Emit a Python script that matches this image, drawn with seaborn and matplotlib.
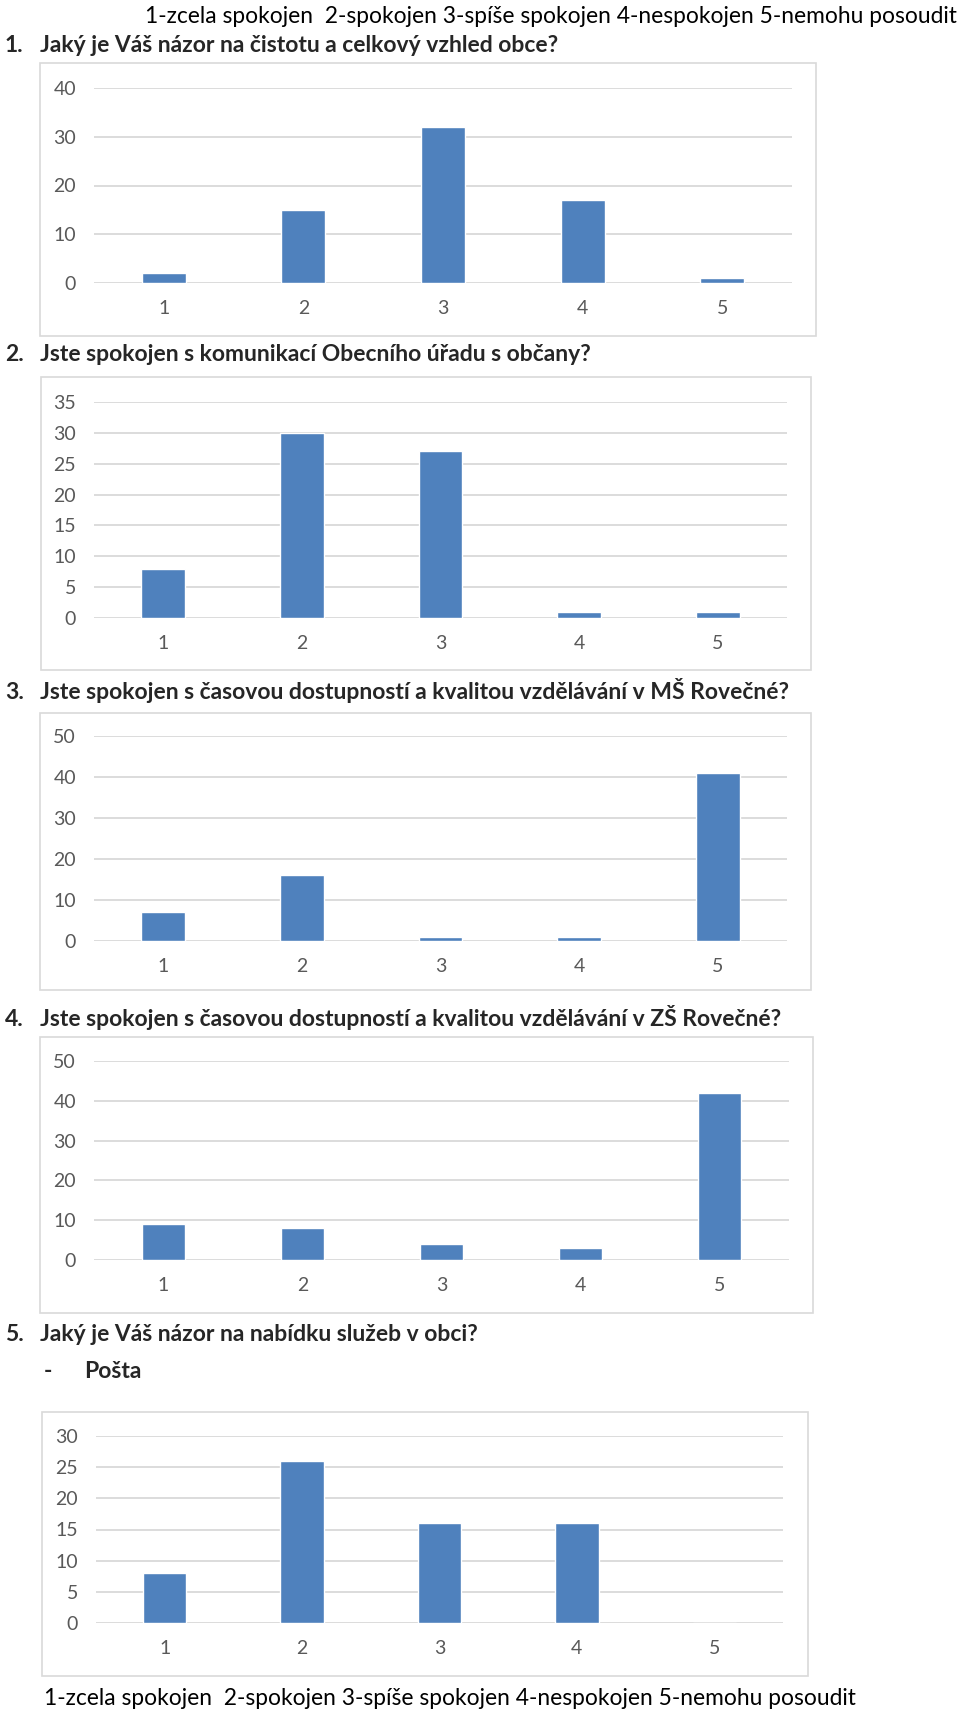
import matplotlib
matplotlib.use("Agg")
import matplotlib.pyplot as plt
from matplotlib.patches import Rectangle
import seaborn as sns
import pandas as pd

# ---- data ----
categories = ["1", "2", "3", "4", "5"]
q1_values = [2, 15, 32, 17, 1]
q2_values = [8, 30, 27, 1, 1]
q3_values = [7, 16, 1, 1, 41]
q4_values = [9, 8, 4, 3, 42]
q5_posta_values = [8, 26, 16, 16, 0]

q1_ticks = [0, 10, 20, 30, 40]
q2_ticks = [0, 5, 10, 15, 20, 25, 30, 35]
q3_ticks = [0, 10, 20, 30, 40, 50]
q4_ticks = [0, 10, 20, 30, 40, 50]
q5_ticks = [0, 5, 10, 15, 20, 25, 30]

legend_text = "1-zcela spokojen  2-spokojen 3-spíše spokojen 4-nespokojen 5-nemohu posoudit"
title1 = "Jaký je Váš názor na čistotu a celkový vzhled obce?"
title2 = "Jste spokojen s komunikací Obecního úřadu s občany?"
title3 = "Jste spokojen s časovou dostupností a kvalitou vzdělávání v MŠ Rovečné?"
title4 = "Jste spokojen s časovou dostupností a kvalitou vzdělávání v ZŠ Rovečné?"
title5 = "Jaký je Váš názor na nabídku služeb v obci?"
subtitle5 = "Pošta"

# ---- style ----
sns.set_theme(style="white")
FAM = ["Lato", "DejaVu Sans"]
plt.rcParams["font.family"] = FAM

W, H = 960, 1711
BAR = "#4f81bd"
GRID = "#d9d9d9"
TICK = "#595959"

fig = plt.figure(figsize=(W / 100, H / 100), dpi=100)
fig.patch.set_facecolor("white")
renderer = fig.canvas.get_renderer()


def fx(x):
    return x / W


def fy(y):
    return 1 - y / H


def fit_size(text, target_px, weight="normal"):
    t = fig.text(0, 0, text, fontsize=20, fontweight=weight)
    w = t.get_window_extent(renderer=renderer).width
    t.remove()
    return 20 * target_px / w


def chart(values, ticks, box, plot):
    bx0, by0, bx1, by1 = box
    fig.patches.append(Rectangle((fx(bx0), fy(by1)), fx(bx1 - bx0), (by1 - by0) / H,
                                 transform=fig.transFigure, fill=False,
                                 edgecolor=GRID, linewidth=1.2, zorder=0))
    px0, py0, px1, py1 = plot
    ax = fig.add_axes([fx(px0), fy(py1), fx(px1 - px0), (py1 - py0) / H])
    df = pd.DataFrame({"cat": categories, "val": values})
    sns.barplot(data=df, x="cat", y="val", color=BAR, saturation=1, width=0.315, ax=ax)
    ax.set_xlim(-0.5, len(categories) - 0.5)
    ax.set_ylim(ticks[0], ticks[-1])
    ax.set_yticks(ticks)
    ax.set_xlabel("")
    ax.set_ylabel("")
    ax.yaxis.grid(True, color=GRID, linewidth=1.3)
    ax.set_axisbelow(True)
    for s in ax.spines.values():
        s.set_visible(False)
    ax.tick_params(axis="both", length=0, labelsize=14, colors=TICK)
    ax.tick_params(axis="y", pad=13)
    ax.tick_params(axis="x", pad=12)
    ax.patch.set_alpha(0)
    return ax


chart(q1_values, q1_ticks, (40, 63, 816, 336), (94, 88, 792, 283))
chart(q2_values, q2_ticks, (41, 377, 811, 670), (94, 402, 787, 618))
chart(q3_values, q3_ticks, (40, 713, 811, 990), (94, 736, 787, 941))
chart(q4_values, q4_ticks, (40, 1037, 813, 1313), (94, 1061, 789, 1260))
chart(q5_posta_values, q5_ticks, (42, 1412, 808, 1676), (96, 1436, 783, 1623))

LSIZE = fit_size(legend_text, 812)
TSIZE = fit_size(title3, 751, "bold")


def base(y, size):
    # convert a text centre line (px) into a baseline (px)
    return y + 0.36 * size * 100 / 72


fig.text(fx(145), fy(base(15, LSIZE)), legend_text, fontsize=LSIZE, va="baseline", ha="left", color="black")
fig.text(fx(44), fy(base(1697, LSIZE)), legend_text, fontsize=LSIZE, va="baseline", ha="left", color="black")

for num, t, y in [("1.", title1, 44), ("2.", title2, 353), ("3.", title3, 691),
                  ("4.", title4, 1018), ("5.", title5, 1333)]:
    fig.text(fx(5), fy(base(y, TSIZE)), num, fontsize=TSIZE, fontweight="bold", va="baseline", ha="left")
    fig.text(fx(40), fy(base(y, TSIZE)), t, fontsize=TSIZE, fontweight="bold", va="baseline", ha="left")

fig.text(fx(44), fy(base(1370, TSIZE)), "-", fontsize=TSIZE, fontweight="bold", va="baseline", ha="left")
fig.text(fx(84), fy(base(1370, TSIZE)), subtitle5, fontsize=TSIZE, fontweight="bold", va="baseline", ha="left")

fig.savefig("out.png", dpi=100)
